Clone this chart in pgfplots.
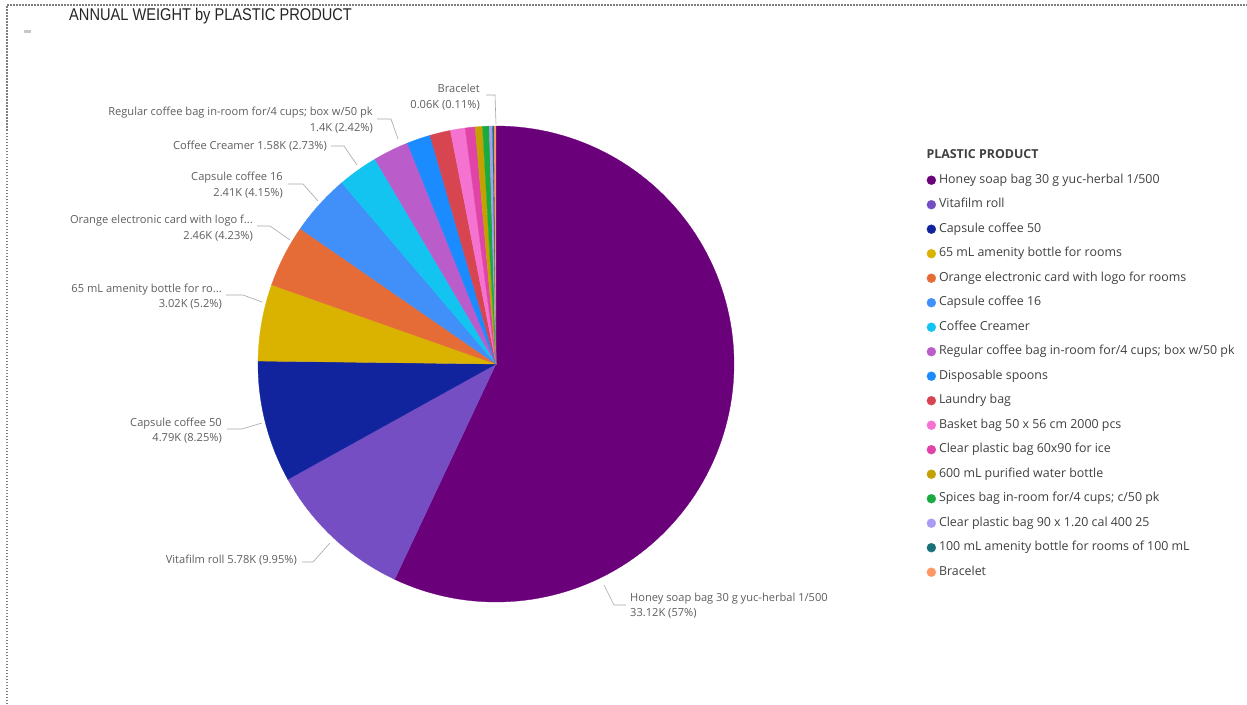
\documentclass[border=0pt]{standalone}
\usepackage{pgfplots}
\pgfplotsset{compat=1.18}
\usepackage{fontspec}
\setmainfont{Open Sans}
\newfontfamily\titlefont[FakeStretch=0.86]{Liberation Sans}
\definecolor{c1}{HTML}{6B007B}
\definecolor{c2}{HTML}{744EC2}
\definecolor{c3}{HTML}{12239E}
\definecolor{c4}{HTML}{D9B300}
\definecolor{c5}{HTML}{E66C37}
\definecolor{c6}{HTML}{418FF8}
\definecolor{c7}{HTML}{13C4F0}
\definecolor{c8}{HTML}{BA5CCA}
\definecolor{c9}{HTML}{1A8CFF}
\definecolor{c10}{HTML}{D64550}
\definecolor{c11}{HTML}{F472D0}
\definecolor{c12}{HTML}{E044A7}
\definecolor{c13}{HTML}{C4A000}
\definecolor{c14}{HTML}{1AAB40}
\definecolor{c15}{HTML}{A99CF5}
\definecolor{c16}{HTML}{197278}
\definecolor{c17}{HTML}{FE9666}
\definecolor{labtext}{HTML}{605E5C}
\definecolor{legtext}{HTML}{404040}
\definecolor{titletext}{HTML}{252423}
\definecolor{leadercol}{HTML}{A6A6A6}
\tikzset{lab/.style={font=\fontsize{11.1}{15.5}\selectfont, text=labtext, inner sep=0pt},
  ldr/.style={draw=leadercol, line width=0.6pt}}
\def\cx{496}\def\cy{364}\def\rr{238}
\gdef\cum{0}
\newcommand\slice[3]{%
  \pgfmathsetmacro\sA{\cum*3.6}%
  \pgfmathsetmacro\sB{(\cum+#1)*3.6}%
  \pgfmathtruncatemacro\ns{max(3,#1*2+2)}%
  \edef\doslice{\noexpand\addplot[fill=#2, draw=#2, line width=0.3pt, domain=\sA:\sB, samples=\ns] ({\cx+\rr*sin(x)},{\cy-\rr*cos(x)}) -- (axis cs:\cx,\cy) -- cycle;}%
  \doslice
  \addlegendentry{#3}%
  \pgfmathsetmacro\tmp{\cum+#1}\xdef\cum{\tmp}%
}
\begin{document}
\begin{tikzpicture}
\begin{axis}[
  scale only axis, width=1247pt, height=704pt,
  xmin=0, xmax=1247, ymin=0, ymax=704, y dir=reverse,
  hide axis, clip=false,
  legend cell align=left,
  legend style={at={(axis cs:926.5,149.5)}, anchor=north west, draw=none, fill=none,
    inner sep=0pt, row sep=12.5pt, font=\fontsize{12.4}{14}\selectfont\color{legtext},
    nodes={inner sep=0pt, text height=9pt, text depth=3pt},
    /tikz/every odd column/.append style={column sep=3pt}},
  legend image code/.code={\fill (4.5pt,0pt) circle (4.5pt);},
]
\addlegendimage{empty legend}
\addlegendentry{\hspace*{-12.5pt}\textbf{PLASTIC PRODUCT}}
\slice{57.00}{c1}{Honey soap bag 30 g yuc-herbal 1/500}
\slice{9.95}{c2}{Vitafilm roll}
\slice{8.25}{c3}{Capsule coffee 50}
\slice{5.20}{c4}{65 mL amenity bottle for rooms}
\slice{4.23}{c5}{Orange electronic card with logo for rooms}
\slice{4.15}{c6}{Capsule coffee 16}
\slice{2.73}{c7}{Coffee Creamer}
\slice{2.42}{c8}{Regular coffee bag in-room for/4 cups; box w/50 pk}
\slice{1.60}{c9}{Disposable spoons}
\slice{1.40}{c10}{Laundry bag}
\slice{1.00}{c11}{Basket bag 50 x 56 cm 2000 pcs}
\slice{0.67}{c12}{Clear plastic bag 60x90 for ice}
\slice{0.50}{c13}{600 mL purified water bottle}
\slice{0.45}{c14}{Spices bag in-room for/4 cups; c/50 pk}
\slice{0.22}{c15}{Clear plastic bag 90 x 1.20 cal 400 25}
\slice{0.11}{c16}{100 mL amenity bottle for rooms of 100 mL}
\slice{0.11}{c17}{Bracelet}
% leaders
\draw[ldr] (axis cs:486,95) -- (axis cs:495,95) -- (axis cs:496,124);
\draw[ldr] (axis cs:377,119) -- (axis cs:391,119) -- (axis cs:398,139);
\draw[ldr] (axis cs:331,146) -- (axis cs:344,146) -- (axis cs:357,165);
\draw[ldr] (axis cs:288,184) -- (axis cs:303,184) -- (axis cs:318,201);
\draw[ldr] (axis cs:257,226) -- (axis cs:270,226) -- (axis cs:290,240);
\draw[ldr] (axis cs:226,295) -- (axis cs:243,295) -- (axis cs:262,302);
\draw[ldr] (axis cs:227,429) -- (axis cs:242,429) -- (axis cs:262,423);
\draw[ldr] (axis cs:302,562) -- (axis cs:313,562) -- (axis cs:330,543);
\draw[ldr] (axis cs:604,585) -- (axis cs:614,605) -- (axis cs:626,605);
% labels
\node[lab, anchor=east, align=right] at (axis cs:480,97) {Bracelet\\0.06K (0.11\%)};
\node[lab, anchor=east, align=right] at (axis cs:373,120) {Regular coffee bag in-room for/4 cups; box w/50 pk\\1.4K (2.42\%)};
\node[lab, anchor=east] at (axis cs:327,146) {Coffee Creamer 1.58K (2.73\%)};
\node[lab, anchor=east, align=right] at (axis cs:283,185) {Capsule coffee 16\\2.41K (4.15\%)};
\node[lab, anchor=east, align=right] at (axis cs:253,228) {Orange electronic card with logo f...\\2.46K (4.23\%)};
\node[lab, anchor=east, align=right] at (axis cs:222,296.5) {65 mL amenity bottle for ro...\\3.02K (5.2\%)};
\node[lab, anchor=east, align=right] at (axis cs:222,430.5) {Capsule coffee 50\\4.79K (8.25\%)};
\node[lab, anchor=east] at (axis cs:297,560) {Vitafilm roll 5.78K (9.95\%)};
\node[lab, anchor=west, align=left] at (axis cs:630,605.5) {Honey soap bag 30 g yuc-herbal 1/500\\33.12K (57\%)};
% title and frame
\node[anchor=west, inner sep=0pt, text=titletext, font=\titlefont\fontsize{17}{19}\selectfont] at (axis cs:69,16) {ANNUAL WEIGHT by PLASTIC PRODUCT};
\draw[gray, line width=1.3pt, dash pattern=on 1.5pt off 1.5pt] (axis cs:7,704) -- (axis cs:7,5) -- (axis cs:1247,5);
\fill[black!22] (axis cs:24,30) rectangle (axis cs:31,33);
\end{axis}
\pgfresetboundingbox
\useasboundingbox (current axis.south west) rectangle (current axis.north east);
\end{tikzpicture}
\end{document}
